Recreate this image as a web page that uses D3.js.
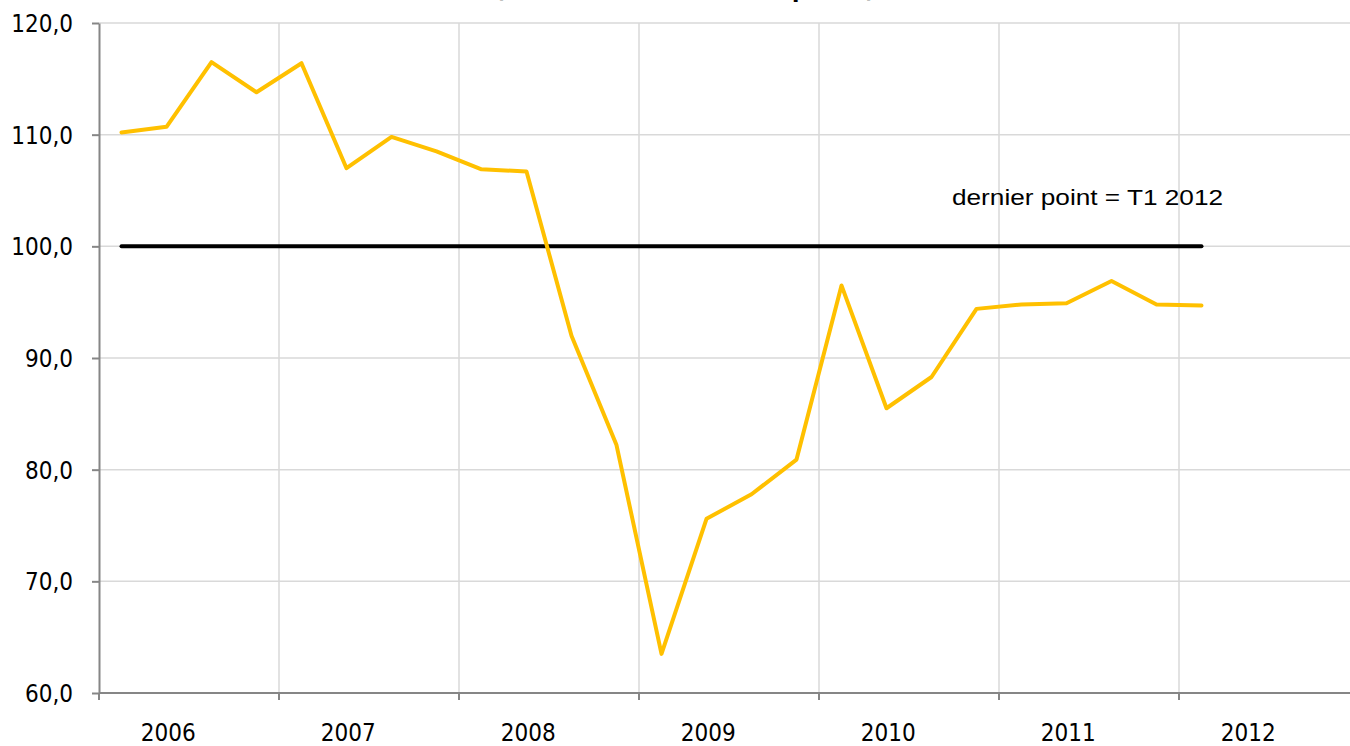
<!DOCTYPE html>
<html>
<head>
<meta charset="utf-8">
<script src="https://cdn.jsdelivr.net/npm/d3@7"></script>
<style>
  body { margin: 0; background: #fff; }
  svg { display: block; }
  .lbl { font-family: "DejaVu Sans", Tahoma, sans-serif; font-stretch: condensed; font-size: 24px; fill: #000; }
</style>
</head>
<body>
<svg id="chart" width="1350" height="746"></svg>
<script>
// quarterly values, 2006 T1 -> 2012 T1
const years = ['2006', '2007', '2008', '2009', '2010', '2011', '2012'];
const quarters = ['T1', 'T2', 'T3', 'T4'];
const values = [
  110.2, 110.7, 116.5, 113.8,
  116.4, 107.0, 109.8, 108.5,
  106.9, 106.7, 92.0, 82.2,
  63.5, 75.6, 77.8, 80.9,
  96.5, 85.5, 88.3, 94.4,
  94.8, 94.9, 96.9, 94.8,
  94.7
];
const refLevel = 100;
const yTicks = [60, 70, 80, 90, 100, 110, 120];
const note = 'dernier point = T1 2012';
const title = '(données CVS / indice en points)';

const svg = d3.select('#chart');
const mLeft = 99, mTop = 23, mBottom = 693;
const mRight = mLeft + years.length * 180; // last year runs past the frame

const periods = years.flatMap(y => quarters.map(q => y + q));
const x = d3.scaleBand().domain(periods).range([mLeft, mRight]);
const xYear = d3.scaleBand().domain(years).range([mLeft, mRight]);
const y = d3.scaleLinear().domain([60, 120]).range([mBottom, mTop]);

const data = values.map((v, i) => ({ p: periods[i], v: v }));

// title, mostly cut off at the top (only descenders show)
svg.append('text')
  .attr('x', 495).attr('y', -3)
  .attr('textLength', 380).attr('lengthAdjust', 'spacing')
  .attr('class', 'lbl')
  .style('font-weight', 'bold')
  .text(title);

// grid
svg.append('g')
  .selectAll('line')
  .data(yTicks.filter(d => d > 60))
  .join('line')
  .attr('x1', mLeft).attr('x2', 1350)
  .attr('y1', d => y(d)).attr('y2', d => y(d))
  .attr('stroke', '#d9d9d9').attr('stroke-width', 1.5);

svg.append('g')
  .selectAll('line')
  .data(years.slice(1))
  .join('line')
  .attr('x1', d => xYear(d)).attr('x2', d => xYear(d))
  .attr('y1', mTop).attr('y2', mBottom)
  .attr('stroke', '#d9d9d9').attr('stroke-width', 1.5);

// y axis
const yAxis = svg.append('g')
  .attr('transform', `translate(${mLeft},0)`)
  .call(d3.axisLeft(y)
    .tickValues(yTicks)
    .tickSize(7)
    .tickPadding(19)
    .tickSizeOuter(0)
    .tickFormat(d => d.toFixed(1).replace('.', ',')));
yAxis.select('.domain').attr('stroke', '#868686').attr('stroke-width', 2);
yAxis.selectAll('.tick line').attr('stroke', '#868686').attr('stroke-width', 2);
yAxis.selectAll('.tick text').attr('class', 'lbl').attr('dy', '0.36em');

// x axis
const xg = svg.append('g');
xg.append('line')
  .attr('x1', mLeft).attr('x2', 1350)
  .attr('y1', mBottom).attr('y2', mBottom)
  .attr('stroke', '#868686').attr('stroke-width', 2);
xg.selectAll('line.tk')
  .data(years)
  .join('line')
  .attr('class', 'tk')
  .attr('x1', d => xYear(d)).attr('x2', d => xYear(d))
  .attr('y1', mBottom).attr('y2', mBottom + 7)
  .attr('stroke', '#868686').attr('stroke-width', 2);
xg.selectAll('text')
  .data(years)
  .join('text')
  .attr('class', 'lbl')
  .attr('text-anchor', 'middle')
  .attr('x', d => xYear(d) + xYear.bandwidth() * 0.385)
  .attr('y', 741)
  .text(d => d);

// reference line at 100
svg.append('line')
  .attr('x1', x(periods[0]) + x.bandwidth() / 2)
  .attr('x2', x(periods[values.length - 1]) + x.bandwidth() / 2)
  .attr('y1', y(refLevel)).attr('y2', y(refLevel))
  .attr('stroke', '#000').attr('stroke-width', 4).attr('stroke-linecap', 'round');

// series
const line = d3.line()
  .x(d => x(d.p) + x.bandwidth() / 2)
  .y(d => y(d.v));

svg.append('path')
  .datum(data)
  .attr('d', line)
  .attr('fill', 'none')
  .attr('stroke', '#ffc000')
  .attr('stroke-width', 4)
  .attr('stroke-linejoin', 'round')
  .attr('stroke-linecap', 'round');

// note
svg.append('text')
  .attr('x', 952).attr('y', 205)
  .attr('textLength', 271).attr('lengthAdjust', 'spacingAndGlyphs')
  .style('font-family', '"Liberation Sans", Arial, sans-serif')
  .style('font-size', '22px')
  .text(note);
</script>
</body>
</html>
